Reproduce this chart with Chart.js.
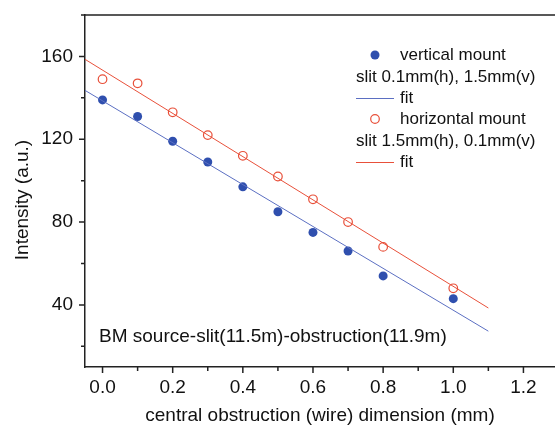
<!DOCTYPE html>
<html>
<head>
<meta charset="utf-8">
<script src="https://cdn.jsdelivr.net/npm/chart.js@4.4.1/dist/chart.umd.min.js"></script>
<style>
  html, body { margin: 0; padding: 0; background: #fff; }
  canvas { display: block; }
</style>
</head>
<body>
<canvas id="chart" width="555" height="427"></canvas>
<script>
const xValues = [0.0, 0.1, 0.2, 0.3, 0.4, 0.5, 0.6, 0.7, 0.8, 1.0];
const verticalMount = [139, 131, 119, 109, 97, 85, 75, 66, 54, 43];
const horizontalMount = [149, 147, 133, 122, 112, 102, 91, 80, 68, 48];

const fitX = [-0.05, 1.1];
const verticalFit = [143.6, 27.3];
const horizontalFit = [158.6, 38.5];

const xTicks = [0.0, 0.2, 0.4, 0.6, 0.8, 1.0, 1.2];
const xMinorTicks = [0.1, 0.3, 0.5, 0.7, 0.9, 1.1];
const yTicks = [40, 80, 120, 160];
const yMinorTicks = [20, 60, 100, 140, 180];

const legendLines = [
  "vertical mount",
  "slit 0.1mm(h), 1.5mm(v)",
  "fit",
  "horizontal mount",
  "slit 1.5mm(h), 0.1mm(v)",
  "fit"
];
const noteText = "BM source-slit(11.5m)-obstruction(11.9m)";
const yTitle = "Intensity (a.u.)";

const BLUE = "#2f4fae";
const BLUE_LINE = "#5b6fc2";
const RED = "#e8503a";
const FONT = "'Liberation Sans', Arial, sans-serif";

const toPts = (xs, ys) => xs.map((x, i) => ({ x, y: ys[i] }));

// ticks pointing out of the frame, plus the top border and the text boxes
const decor = {
  id: "decor",
  afterDraw(chart) {
    const { ctx, chartArea: a, scales: { x, y } } = chart;
    ctx.save();
    ctx.strokeStyle = "#222";
    ctx.lineWidth = 1.5;
    ctx.beginPath();
    ctx.moveTo(a.left, a.top);
    ctx.lineTo(a.right, a.top);
    xTicks.forEach(v => { const px = x.getPixelForValue(v); ctx.moveTo(px, a.bottom); ctx.lineTo(px, a.bottom + 6); });
    xMinorTicks.forEach(v => { const px = x.getPixelForValue(v); ctx.moveTo(px, a.bottom); ctx.lineTo(px, a.bottom + 4); });
    yTicks.forEach(v => { const py = y.getPixelForValue(v); ctx.moveTo(a.left, py); ctx.lineTo(a.left - 6, py); });
    yMinorTicks.forEach(v => { const py = y.getPixelForValue(v); ctx.moveTo(a.left, py); ctx.lineTo(a.left - 4, py); });
    ctx.stroke();

    // legend
    ctx.fillStyle = "#111";
    ctx.font = "17px " + FONT;
    ctx.textBaseline = "middle";
    ctx.textAlign = "left";
    const rows = [55, 77, 98, 119, 141, 162];
    ctx.fillText(legendLines[0], 400, rows[0]);
    ctx.fillText(legendLines[1], 356, rows[1]);
    ctx.fillText(legendLines[2], 400, rows[2]);
    ctx.fillText(legendLines[3], 400, rows[3]);
    ctx.fillText(legendLines[4], 356, rows[4]);
    ctx.fillText(legendLines[5], 400, rows[5]);

    ctx.fillStyle = BLUE;
    ctx.beginPath();
    ctx.arc(375, rows[0], 4.5, 0, Math.PI * 2);
    ctx.fill();

    ctx.strokeStyle = RED;
    ctx.lineWidth = 1.2;
    ctx.beginPath();
    ctx.arc(375, rows[3], 4.3, 0, Math.PI * 2);
    ctx.stroke();

    ctx.lineWidth = 1;
    ctx.strokeStyle = BLUE_LINE;
    ctx.beginPath();
    ctx.moveTo(356, rows[2] + 0.5);
    ctx.lineTo(394, rows[2] + 0.5);
    ctx.stroke();
    ctx.strokeStyle = RED;
    ctx.beginPath();
    ctx.moveTo(356, rows[5] + 0.5);
    ctx.lineTo(394, rows[5] + 0.5);
    ctx.stroke();

    // note
    ctx.fillStyle = "#111";
    ctx.font = "19px " + FONT;
    ctx.fillText(noteText, 99, 337);

    // y title, a bit below the plot centre as in the original
    ctx.translate(23, 200);
    ctx.rotate(-Math.PI / 2);
    ctx.textAlign = "center";
    ctx.fillText(yTitle, 0, 0);
    ctx.restore();
  }
};

new Chart(document.getElementById("chart"), {
  type: "scatter",
  data: {
    datasets: [
      {
        label: "vertical fit",
        type: "line",
        data: toPts(fitX, verticalFit),
        borderColor: BLUE_LINE,
        borderWidth: 1,
        pointRadius: 0,
        fill: false
      },
      {
        label: "horizontal fit",
        type: "line",
        data: toPts(fitX, horizontalFit),
        borderColor: RED,
        borderWidth: 1,
        pointRadius: 0,
        fill: false
      },
      {
        label: "vertical mount",
        data: toPts(xValues, verticalMount),
        backgroundColor: BLUE,
        borderColor: BLUE,
        pointRadius: 4.5,
        borderWidth: 0
      },
      {
        label: "horizontal mount",
        data: toPts(xValues, horizontalMount),
        backgroundColor: "rgba(255,255,255,0)",
        borderColor: RED,
        pointRadius: 4.3,
        borderWidth: 1.2
      }
    ]
  },
  options: {
    responsive: false,
    animation: false,
    devicePixelRatio: 1,
    layout: { autoPadding: false, padding: { top: 15, right: 0, left: 0, bottom: 0 } },
    plugins: { legend: { display: false }, tooltip: { enabled: false } },
    scales: {
      x: {
        type: "linear",
        min: -0.05,
        max: 1.29,
        grid: { display: false, drawTicks: false },
        border: { display: true, color: "#222", width: 1.5 },
        afterBuildTicks: s => { s.ticks = xTicks.map(v => ({ value: v })); },
        afterFit: s => { s.height = 60; s.paddingLeft = 0; s.paddingRight = 0; },
        ticks: {
          padding: 9,
          color: "#111",
          font: { family: FONT, size: 19 },
          callback: v => v.toFixed(1)
        },
        title: {
          display: true,
          text: "central obstruction (wire) dimension (mm)",
          color: "#111",
          font: { family: FONT, size: 19 },
          padding: { top: 0, bottom: 0 }
        }
      },
      y: {
        type: "linear",
        min: 10,
        max: 180,
        grid: { display: false, drawTicks: false },
        border: { display: true, color: "#222", width: 1.5 },
        afterBuildTicks: s => { s.ticks = yTicks.map(v => ({ value: v })); },
        afterFit: s => { s.width = 85; s.paddingTop = 0; s.paddingBottom = 0; },
        ticks: {
          padding: 12,
          color: "#111",
          font: { family: FONT, size: 19 }
        },
        title: { display: false }
      }
    }
  },
  plugins: [decor]
});
</script>
</body>
</html>
